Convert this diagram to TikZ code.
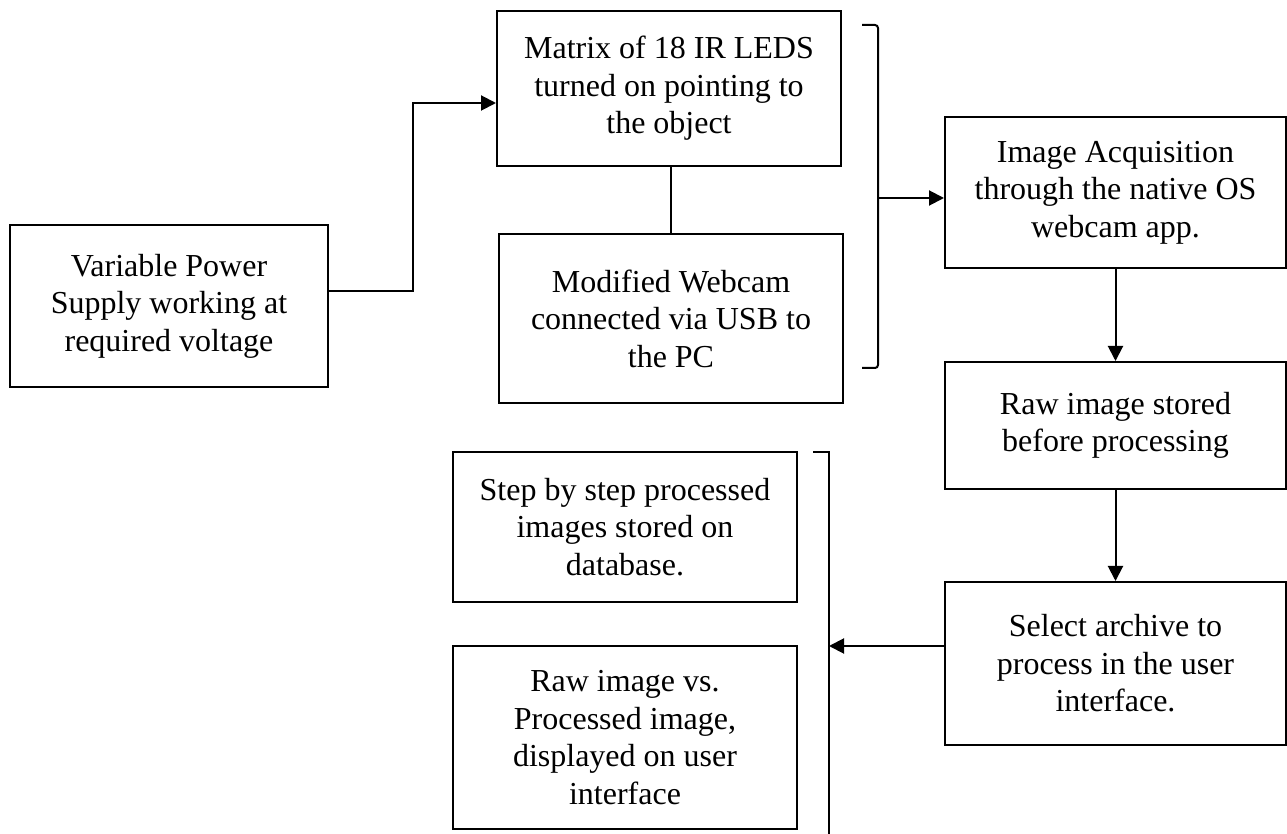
\documentclass[tikz,border=0pt]{standalone}
\usepackage{fontspec}
\setmainfont{Liberation Serif}
\usetikzlibrary{positioning, arrows.meta}

\begin{document}
\begin{tikzpicture}[x=0.5pt, y=-0.5pt, line width=1pt,
  box/.style={draw, align=center, inner sep=0pt, font=\fontsize{16}{18.75}\selectfont},
  >={Triangle[length=7.5pt,width=7.5pt]}]
\useasboundingbox (0,0) rectangle (1287,834);
\node[box, minimum width=159pt, minimum height=81pt] (pw) at (169,306) {Variable Power\\Supply working at\\required voltage};
\node[box, minimum width=172pt, minimum height=77.5pt] (mx) at (669,88.5) {Matrix of 18 IR LEDS\\turned on pointing to\\the object};
\node[box, minimum width=172pt, minimum height=84.5pt] (wc) at (671,318.5) {Modified Webcam\\connected via USB to\\the PC};
\node[box, minimum width=170.5pt, minimum height=75.5pt] (acq) at (1115.5,192.5) {Image Acquisition\\through the native OS\\webcam app.};
\node[box, minimum width=170.5pt, minimum height=63.5pt] (raw) at (1115.5,425.5) {Raw image stored\\before processing};
\node[box, minimum width=170.5pt, minimum height=81.5pt] (sel) at (1115.5,663.5) {Select archive to\\process in the user\\interface.};
\node[box, minimum width=172pt, minimum height=75pt] (stp) at (625,527) {Step by step processed\\images stored on\\database.};
\node[box, minimum width=172pt, minimum height=91.5pt] (cmp) at (625,737.5) {Raw image vs.\\Processed image,\\displayed on user\\interface};
\coordinate (k1) at (413,291);
\coordinate (k2) at (413,103);
\coordinate (b1m) at (878,198);
\coordinate (b2m) at (829,646);
\draw[->] (pw.east |- k1) -- (k1) -- (k2) -- (mx.west |- k2);
\draw (mx.south -| wc.north) -- (wc.north);
\draw[rounded corners=1.5pt] (862,25) -- (878,25) -- (878,368) -- (862,368);
\draw[->] (b1m) -- (acq.west |- b1m);
\draw[->] (acq) -- (raw);
\draw[->] (raw) -- (sel);
\draw[->] (sel.west |- b2m) -- (b2m);
\draw (813,452) -- (829,452) -- (829,834);
\end{tikzpicture}
\end{document}
